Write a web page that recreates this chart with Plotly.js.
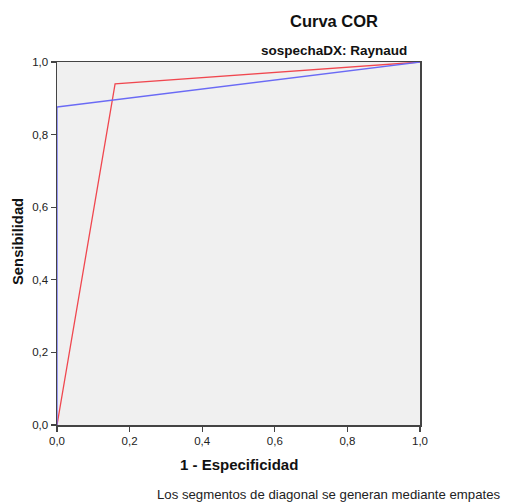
<!DOCTYPE html>
<html><head><meta charset="utf-8">
<script src="https://cdn.plot.ly/plotly-3.0.1.min.js"></script>
<style>body{margin:0;background:#fff}#c{width:506px;height:503px}</style>
</head><body><div id="c"></div>
<script>
const redX = [0, 0.16, 1];
const redY = [0, 0.94, 1];
const blueX = [0, 0, 1];
const blueY = [0, 0.876, 1];
const tickVals = [0, 0.2, 0.4, 0.6, 0.8, 1.0];

const traces = [
  {x: redX, y: redY, mode: 'lines', line: {color: '#f0474f', width: 1.3}, hoverinfo: 'skip', cliponaxis: false},
  {x: blueX, y: blueY, mode: 'lines', line: {color: '#6a6af5', width: 1.3}, hoverinfo: 'skip', cliponaxis: false}
];
const axisCommon = {
  range: [0, 1], tickvals: tickVals, tickformat: '.1f',
  ticks: 'outside', ticklen: 5, tickwidth: 1.3, tickcolor: '#444',
  showline: true, linecolor: '#444', linewidth: 1.5, mirror: true,
  showgrid: false, zeroline: false, fixedrange: true,
  tickfont: {family: 'Liberation Sans, Arial', size: 11.5, color: '#222'}
};
const F = 'Liberation Sans, Arial';
const layout = {
  width: 506, height: 503,
  margin: {l: 57, r: 86, t: 62, b: 78},
  paper_bgcolor: '#ffffff', plot_bgcolor: '#f0f0f0',
  separators: ',.',
  showlegend: false,
  xaxis: Object.assign({}, axisCommon),
  yaxis: Object.assign({}, axisCommon),
  annotations: [
    {text: '<b>Curva COR</b>', xref: 'paper', yref: 'paper', x: (334-57)/363, y: (425-21)/363,
     xanchor: 'center', yanchor: 'middle', showarrow: false,
     font: {family: F, size: 16.5, color: '#111'}},
    {text: '<b>sospechaDX: Raynaud</b>', xref: 'paper', yref: 'paper', x: (334-57)/363, y: (425-50)/363,
     xanchor: 'center', yanchor: 'middle', showarrow: false,
     font: {family: F, size: 13.5, color: '#111'}},
    {text: '<b>1 - Especificidad</b>', xref: 'paper', yref: 'paper', x: 0.5, y: (425-464)/363,
     xanchor: 'center', yanchor: 'middle', showarrow: false,
     font: {family: F, size: 15, color: '#111'}},
    {text: '<b>Sensibilidad</b>', xref: 'paper', yref: 'paper', x: (18-57)/363, y: (425-242)/363,
     xanchor: 'center', yanchor: 'middle', textangle: -90, showarrow: false,
     font: {family: F, size: 14.8, color: '#111'}},
    {text: 'Los segmentos de diagonal se generan mediante empates', xref: 'paper', yref: 'paper',
     x: (503-57)/363, y: (425-494)/363, xanchor: 'right', yanchor: 'middle', showarrow: false,
     font: {family: F, size: 13.2, color: '#222'}}
  ]
};
Plotly.newPlot('c', traces, layout, {displayModeBar: false, staticPlot: true});
</script></body></html>
